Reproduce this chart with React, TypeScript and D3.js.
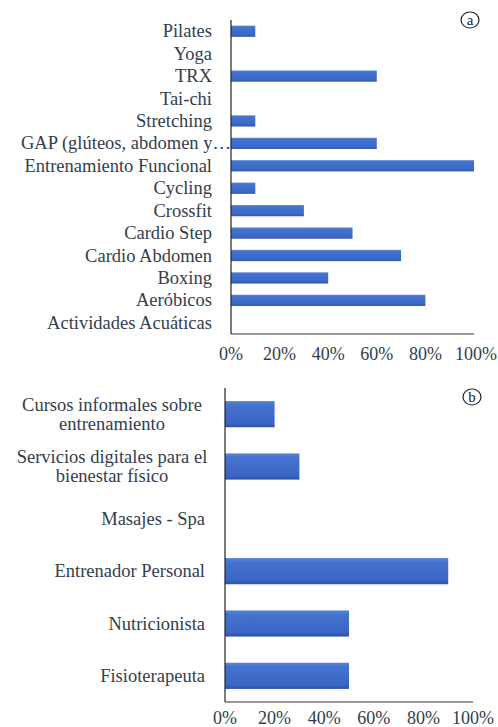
import React from "react";
import * as d3 from "d3";

const catsA = [
  "Pilates", "Yoga", "TRX", "Tai-chi", "Stretching", "GAP (glúteos, abdomen y…",
  "Entrenamiento Funcional", "Cycling", "Crossfit", "Cardio Step", "Cardio Abdomen",
  "Boxing", "Aeróbicos", "Actividades Acuáticas",
];
const valsA = [0.1, 0, 0.6, 0, 0.1, 0.6, 1.0, 0.1, 0.3, 0.5, 0.7, 0.4, 0.8, 0];

const catsB = [
  ["Cursos informales sobre", "entrenamiento"],
  ["Servicios digitales para el", "bienestar físico"],
  ["Masajes - Spa"],
  ["Entrenador Personal"],
  ["Nutricionista"],
  ["Fisioterapeuta"],
];
const valsB = [0.2, 0.3, 0, 0.9, 0.5, 0.5];

const ticks = [0, 0.2, 0.4, 0.6, 0.8, 1.0];
const tickLabels = ["0%", "20%", "40%", "60%", "80%", "100%"];

const TEXT = "#333d4d";
const FS = 18.5;
const TFS = 18;
const fontStyle = { fontFamily: "Liberation Serif" };

export default function App() {
  const xA = d3.scaleLinear().domain([0, 1]).range([231, 474]);
  const yA = d3.scaleBand<number>().domain(d3.range(catsA.length)).range([20, 334]).paddingInner(0.5).paddingOuter(0.25);
  const xB = d3.scaleLinear().domain([0, 1]).range([225, 473]);
  const yB = d3.scaleBand<number>().domain(d3.range(catsB.length)).range([388, 702]).paddingInner(0.5).paddingOuter(0.25);

  return (
    <svg width={498} height={727} style={{ position: "absolute", left: 0, top: 0, background: "#fff" }}>
      <defs>
        <linearGradient id="barg" x1="0" y1="0" x2="0" y2="1">
          <stop offset="0" stopColor="#5a86d8" />
          <stop offset="0.15" stopColor="#4573cf" />
          <stop offset="0.85" stopColor="#3a65c4" />
          <stop offset="1" stopColor="#2c52a6" />
        </linearGradient>
      </defs>
      {/* Panel a */}
      {catsA.map((c, i) => {
        const y = yA(i)!;
        const h = yA.bandwidth();
        return (
          <g key={"a" + i}>
            {valsA[i] > 0 && (
              <rect x={xA(0)} y={y} width={xA(valsA[i]) - xA(0)} height={h} fill="url(#barg)" />
            )}
            <text x={i === 5 ? 231 : 212} y={y + h / 2} dy="0.33em" textAnchor="end" fontSize={FS}
              fill={TEXT} style={fontStyle}>{c}</text>
          </g>
        );
      })}
      <line x1={xA(0)} x2={xA(0)} y1={20} y2={334} stroke="#222" strokeWidth={1.2} />
      <line x1={xA(0)} x2={xA(1)} y1={334} y2={334} stroke="#333" strokeWidth={1} />
      {ticks.map((t, i) => (
        <text key={"ta" + i} x={xA(t) + (i === 5 ? 2 : 0)} y={354} dy="0.33em" textAnchor="middle" fontSize={TFS}
          fill={TEXT} style={fontStyle}>{tickLabels[i]}</text>
      ))}
      <ellipse cx={470} cy={20} rx={9} ry={8} fill="none" stroke="#222" strokeWidth={1.2} />
      <text x={470} y={20} dy="0.32em" textAnchor="middle" fontSize={15} fill="#222" style={fontStyle}>a</text>

      {/* Panel b */}
      {catsB.map((c, i) => {
        const y = yB(i)!;
        const h = yB.bandwidth();
        const lh = 19;
        const cy = y + h / 2;
        return (
          <g key={"b" + i}>
            {valsB[i] > 0 && (
              <rect x={xB(0)} y={y} width={xB(valsB[i]) - xB(0)} height={h} fill="url(#barg)" />
            )}
            {c.length === 1 ? (
              <text x={205} y={cy} dy="0.33em" textAnchor="end" fontSize={FS} fill={TEXT} style={fontStyle}>{c[0]}</text>
            ) : (
              <g>
                {c.map((line, j) => (
                  <text key={j} x={112} y={cy + (j - (c.length - 1) / 2) * lh} dy="0.33em" textAnchor="middle"
                    fontSize={FS} fill={TEXT} style={fontStyle}>{line}</text>
                ))}
              </g>
            )}
          </g>
        );
      })}
      <line x1={xB(0)} x2={xB(0)} y1={388} y2={702} stroke="#222" strokeWidth={1.2} />
      <line x1={xB(0)} x2={xB(1)} y1={702} y2={702} stroke="#333" strokeWidth={1} />
      {ticks.map((t, i) => (
        <text key={"tb" + i} x={xB(t)} y={718} dy="0.33em" textAnchor="middle" fontSize={TFS}
          fill={TEXT} style={fontStyle}>{tickLabels[i]}</text>
      ))}
      <ellipse cx={472} cy={397} rx={9} ry={8} fill="none" stroke="#222" strokeWidth={1.2} />
      <text x={472} y={397} dy="0.32em" textAnchor="middle" fontSize={15} fill="#222" style={fontStyle}>b</text>
    </svg>
  );
}
